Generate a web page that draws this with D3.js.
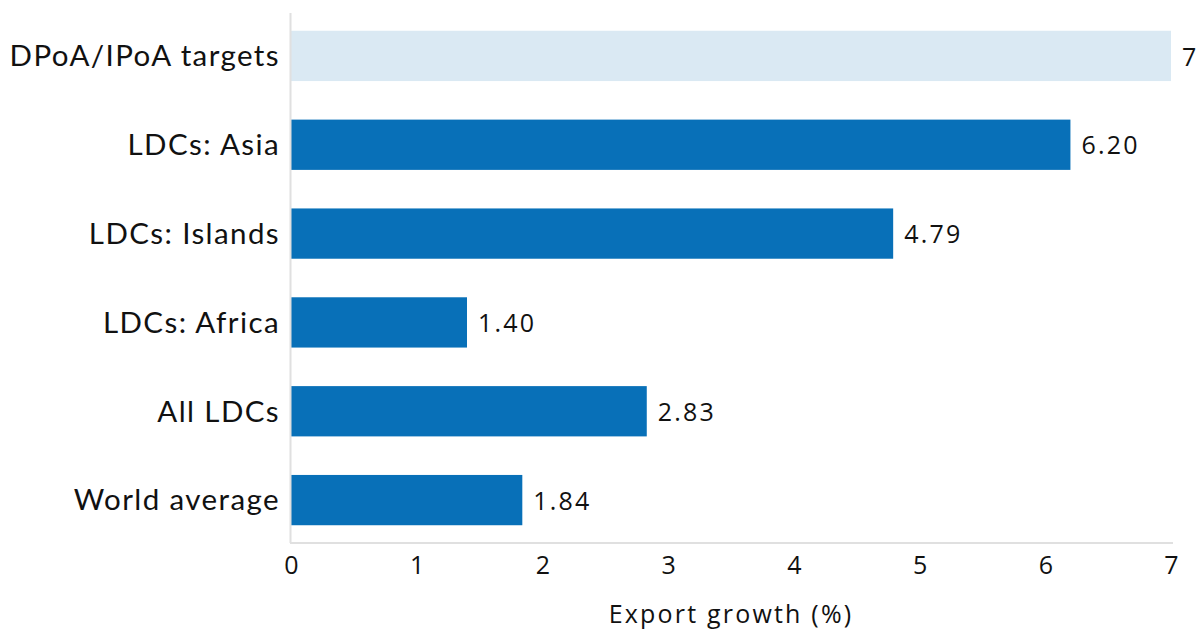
<!DOCTYPE html>
<html>
<head>
<meta charset="utf-8">
<script src="https://cdn.jsdelivr.net/npm/d3@7"></script>
<style>
  body { margin: 0; background: #fff; }
  .cat { font-family: Lato, sans-serif; font-size: 29.5px; letter-spacing: 1.4px; fill: #111; }
  .val { font-family: "Open Sans", sans-serif; font-size: 25px; letter-spacing: 2.2px; fill: #111; }
  .tick text { font-family: "Open Sans", sans-serif; font-size: 25px; fill: #111; }
</style>
</head>
<body>
<div id="chart"></div>
<script>
const categories = ["DPoA/IPoA targets", "LDCs: Asia", "LDCs: Islands", "LDCs: Africa", "All LDCs", "World average"]
const values = [7, 6.20, 4.79, 1.40, 2.83, 1.84]
const labels = ["7", "6.20", "4.79", "1.40", "2.83", "1.84"]
const xTicks = [0, 1, 2, 3, 4, 5, 6, 7]

drawbar()

function drawbar() {
	const data = categories.map((c, i) => ({ name: c, value: values[i], label: labels[i] }))

	const svg = d3.select("#chart")
		.append("svg")
		.attr("width", 1203)
		.attr("height", 632)

	const x = d3.scaleLinear()
		.domain([0, 7])
		.range([291, 1171])

	const y = d3.scaleBand()
		.domain(categories)
		.range([13, 543])
		.paddingInner(0.434)
		.paddingOuter(0.2)

	// bars
	svg.append("g")
		.selectAll("rect")
		.data(data)
		.join("rect")
		.attr("x", x(0))
		.attr("y", d => y(d.name))
		.attr("width", d => x(d.value) - x(0))
		.attr("height", y.bandwidth())
		.attr("fill", (d, i) => i == 0 ? "#dae9f3" : "#0870b8")

	// axes lines
	svg.append("line")
		.attr("x1", 290.5).attr("x2", 290.5)
		.attr("y1", 13).attr("y2", 543)
		.attr("stroke", "#e0e0e0").attr("stroke-width", 2)
	svg.append("line")
		.attr("x1", 290).attr("x2", 1173)
		.attr("y1", 543).attr("y2", 543)
		.attr("stroke", "#e0e0e0").attr("stroke-width", 2)

	// category labels
	svg.append("g")
		.selectAll("text")
		.data(data)
		.join("text")
		.attr("class", "cat")
		.attr("x", 280)
		.attr("y", d => y(d.name) + y.bandwidth() / 2)
		.attr("dy", "0.35em")
		.attr("text-anchor", "end")
		.text(d => d.name)

	// value labels
	svg.append("g")
		.selectAll("text")
		.data(data)
		.join("text")
		.attr("class", "val")
		.attr("x", d => x(d.value) + 11)
		.attr("y", d => y(d.name) + y.bandwidth() / 2 + 1)
		.attr("dy", "0.35em")
		.text(d => d.label)

	const xAxis = d3.axisBottom(x)
		.tickValues(xTicks)
		.tickSize(0)
		.tickPadding(13)
		.tickFormat(d3.format("d"))

	svg.append("g")
		.attr("class", "x-axis")
		.attr("transform", "translate(0,543)")
		.call(xAxis)
		.call(g => g.select(".domain").remove())

	svg.append("text")
		.attr("class", "val")
		.attr("x", (x(0) + x(7)) / 2)
		.attr("y", 623)
		.attr("text-anchor", "middle")
		.text("Export growth (%)")
}
</script>
</body>
</html>
